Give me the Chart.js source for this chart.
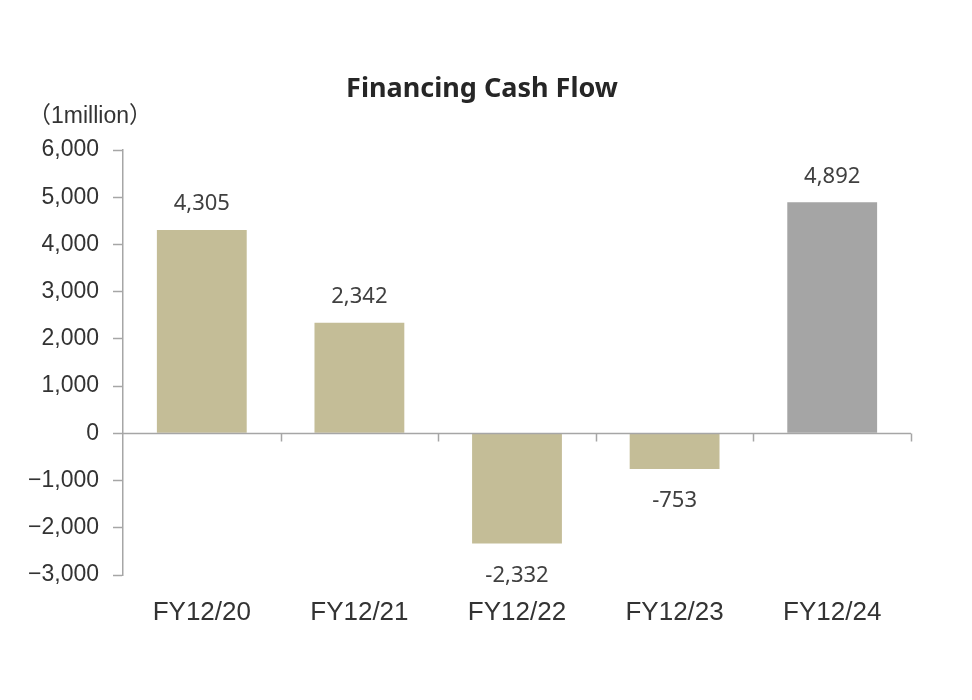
<!DOCTYPE html>
<html>
<head>
<meta charset="utf-8">
<title>Financing Cash Flow</title>
<script src="https://cdn.jsdelivr.net/npm/chart.js@4.4.1/dist/chart.umd.min.js"></script>
<style>
  html, body { margin: 0; padding: 0; background: #fff; }
  #wrap { width: 972px; height: 700px; position: relative; }
</style>
</head>
<body>
<div id="wrap"><canvas id="cashChart" width="972" height="700"></canvas></div>
<script>
const categories = ['FY12/20', 'FY12/21', 'FY12/22', 'FY12/23', 'FY12/24'];
const financingCash = [4305, 2342, -2332, -753, 4892];
const barColors = ['#C4BD97', '#C4BD97', '#C4BD97', '#C4BD97', '#A5A5A5'];
const yMin = -3000;
const yMax = 6000;
const yStep = 1000;

const AXIS_COLOR = '#A6A6A6';
const TEXT_COLOR = '#333333';

function fmt(v, minus) {
  const s = Math.abs(v).toLocaleString('en-US');
  return v < 0 ? minus + s : s;
}

// title + unit text
const headerPlugin = {
  id: 'header',
  afterDraw(chart) {
    const ctx = chart.ctx;
    ctx.save();
    ctx.fillStyle = '#262626';
    ctx.font = 'bold 27px "Noto Sans"';
    ctx.textAlign = 'center';
    ctx.textBaseline = 'middle';
    ctx.fillText('Financing Cash Flow', 482, 89);
    ctx.fillStyle = TEXT_COLOR;
    ctx.font = '23px "Liberation Sans", "Noto Sans CJK JP"';
    ctx.textAlign = 'left';
    ctx.fillText('（1million）', 28, 117);
    ctx.restore();
  }
};

// zero line with category ticks
const zeroLinePlugin = {
  id: 'zeroLine',
  afterDatasetsDraw(chart) {
    const { ctx, chartArea, scales } = chart;
    const y0 = Math.round(scales.y.getPixelForValue(0)) + 0.5;
    ctx.save();
    ctx.strokeStyle = AXIS_COLOR;
    ctx.lineWidth = 1.5;
    ctx.beginPath();
    ctx.moveTo(chartArea.left, y0);
    ctx.lineTo(chartArea.right, y0);
    for (let i = 1; i <= categories.length; i++) {
      const x = Math.round(scales.x.getPixelForValue(i - 0.5)) + 0.5;
      ctx.moveTo(x, y0);
      ctx.lineTo(x, y0 + 8);
    }
    ctx.stroke();
    ctx.restore();
  }
};

const valueLabelPlugin = {
  id: 'valueLabels',
  afterDatasetsDraw(chart) {
    const ctx = chart.ctx;
    const meta = chart.getDatasetMeta(0);
    ctx.save();
    ctx.fillStyle = '#404040';
    ctx.font = '22px "Noto Sans"';
    ctx.textAlign = 'center';
    ctx.textBaseline = 'middle';
    meta.data.forEach((bar, i) => {
      const v = financingCash[i];
      const y = v >= 0 ? bar.y - 26 : bar.y + 32;
      ctx.fillText(fmt(v, '-'), bar.x, y);
    });
    ctx.restore();
  }
};

new Chart(document.getElementById('cashChart'), {
  type: 'bar',
  data: {
    labels: categories,
    datasets: [{
      data: financingCash,
      backgroundColor: barColors,
      borderWidth: 0,
      categoryPercentage: 1,
      barPercentage: 0.57
    }]
  },
  options: {
    responsive: false,
    animation: false,
    devicePixelRatio: 1,
    layout: { padding: { top: 150, left: 0, right: 61, bottom: 0 } },
    plugins: {
      legend: { display: false },
      tooltip: { enabled: false }
    },
    scales: {
      x: {
        grid: { display: false },
        border: { display: false },
        ticks: {
          color: TEXT_COLOR,
          font: { family: '"Liberation Sans"', size: 26 },
          padding: 14
        },
        afterFit(scale) { scale.height = 125; }
      },
      y: {
        min: yMin,
        max: yMax,
        grid: {
          drawOnChartArea: false,
          drawTicks: true,
          tickLength: 10,
          tickColor: AXIS_COLOR,
          tickWidth: 1.5
        },
        border: { display: true, color: AXIS_COLOR, width: 1.5 },
        ticks: {
          stepSize: yStep,
          color: TEXT_COLOR,
          padding: 14,
          font: { family: '"Liberation Sans"', size: 23 },
          callback: (v) => fmt(v, '\u2212')
        },
        afterFit(scale) { scale.width = 123; }
      }
    }
  },
  plugins: [headerPlugin, zeroLinePlugin, valueLabelPlugin]
});
</script>
</body>
</html>
